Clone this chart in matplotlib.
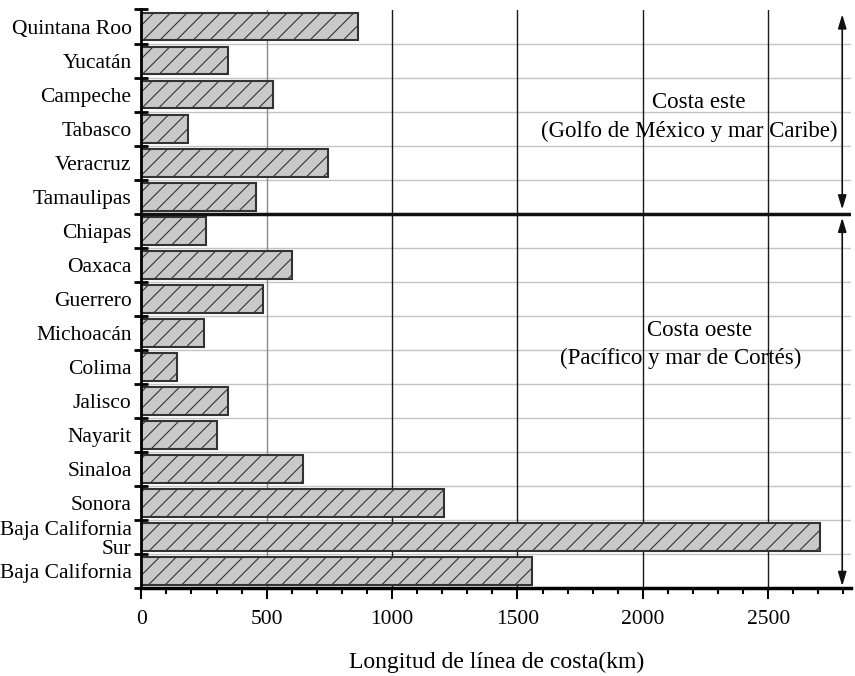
import matplotlib
matplotlib.use("Agg")
import matplotlib.pyplot as plt
import numpy as np
from matplotlib.ticker import MultipleLocator, FixedLocator

plt.rcParams['font.family'] = ['Liberation Serif', 'DejaVu Serif']
plt.rcParams['hatch.linewidth'] = 0.8

states = ["Quintana Roo", "Yucatán", "Campeche", "Tabasco", "Veracruz", "Tamaulipas",
          "Chiapas", "Oaxaca", "Guerrero", "Michoacán", "Colima", "Jalisco", "Nayarit",
          "Sinaloa", "Sonora", "Baja California\nSur", "Baja California"]
coast_km = [865, 345, 525, 186, 746, 458,
            258, 600, 486, 249, 143, 344, 302,
            643, 1207, 2705, 1556]
x_ticks = [0, 500, 1000, 1500, 2000, 2500]
x_label = "Longitud de línea de costa(km)"
east_title = "Costa este"
east_sub = "(Golfo de México y mar Caribe)"
west_title = "Costa oeste"
west_sub = "(Pacífico y mar de Cortés)"
n_east = 6

W, H = 855, 676
fig = plt.figure(figsize=(W / 100, H / 100), dpi=100)
left_px, right_px, top_px, bot_px = 141.3, 851, 9.5, 587.8
ax = fig.add_axes([left_px / W, 1 - bot_px / H, (right_px - left_px) / W, (bot_px - top_px) / H])

n = len(states)
y = np.arange(n)
ax.set_ylim(n - 0.5, -0.5)
ax.set_xlim(0, 2830)

# grid lines
for b in np.arange(-0.5, n, 1.0)[1:-1]:
    ax.axhline(b, color='#c4c4c4', lw=1.0, zorder=0)
for xv in x_ticks[1:]:
    ax.axvline(xv, color='#8a8a8a' if xv == 500 else '#1a1a1a', lw=1.0, zorder=0)

ax.barh(y, coast_km, height=0.82, color='#c9c9c9', edgecolor='#333333',
        linewidth=1.5, hatch='//', zorder=2)

ax.axhline(n_east - 0.5, color='#111111', lw=2.5, zorder=3)

for s in ['top', 'right']:
    ax.spines[s].set_visible(False)
ax.spines['left'].set_linewidth(2)
ax.spines['bottom'].set_linewidth(2.5)

ax.set_yticks(y)
ax.set_yticklabels(states, fontsize=15.5, linespacing=1.0)
ax.tick_params(axis='y', which='major', length=0, pad=7)
ax.yaxis.set_minor_locator(FixedLocator(np.arange(-0.5, n, 1.0)))
ax.tick_params(axis='y', which='minor', direction='inout', length=10, width=2)

ax.set_xticks(x_ticks)
ax.set_xticklabels([str(v) for v in x_ticks], fontsize=15.5)
ax.xaxis.set_minor_locator(MultipleLocator(100))
ax.tick_params(axis='x', which='major', direction='out', length=8, width=1.5, pad=8)
ax.tick_params(axis='x', which='minor', direction='out', length=4, width=1.5)

fig.text((left_px + right_px) / 2 / W, 1 - 662 / H, x_label, ha='center', va='center', fontsize=17)

ax.text(2224, 2.24, east_title, ha='center', va='center', fontsize=16.5, zorder=4)
ax.text(2186, 3.09, east_sub, ha='center', va='center', fontsize=16.5, zorder=4)
ax.text(2224, 8.93, west_title, ha='center', va='center', fontsize=16.5, zorder=4)
ax.text(2150, 9.76, west_sub, ha='center', va='center', fontsize=16.5, zorder=4)

astyle = "<|-|>,head_length=0.6,head_width=0.18"
ax.annotate('', xy=(2795, -0.36), xytext=(2795, n_east - 0.62),
            arrowprops=dict(arrowstyle=astyle, color='#111111', lw=1.2, shrinkA=0, shrinkB=0,
                            mutation_scale=14))
ax.annotate('', xy=(2795, n_east - 0.38), xytext=(2795, n - 0.55),
            arrowprops=dict(arrowstyle=astyle, color='#111111', lw=1.2, shrinkA=0, shrinkB=0,
                            mutation_scale=14))

fig.savefig("out.png", dpi=100)
